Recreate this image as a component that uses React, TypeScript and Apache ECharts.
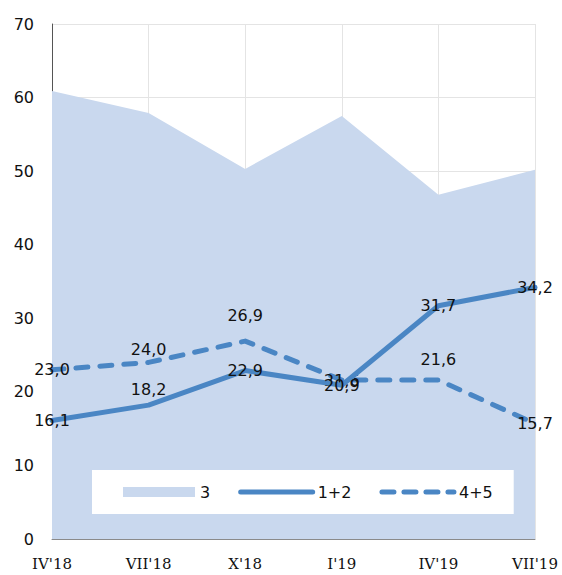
import React, { useEffect, useRef } from "react";
import * as echarts from "echarts";

const categories = ["IV'18", "VII'18", "X'18", "I'19", "IV'19", "VII'19"];
const areaValues = [60.9, 57.9, 50.3, 57.5, 46.8, 50.2];
const values12 = [16.1, 18.2, 22.9, 20.9, 31.7, 34.2];
const values45 = [23.0, 24.0, 26.9, 21.6, 21.6, 15.7];
// label placement per point: 0 = centered on point, >0 = distance above point
const labelAbove12 = [0, 7, 0, 0, 0, 0];
const labelAbove45 = [0, 4, 17, 0, 12, 0];
const yTicks = { min: 0, max: 70, interval: 10 };

const LINE_COLOR = "#4a86c4";
const AREA_COLOR = "#c9d8ee";
const SANS = "DejaVu Sans";

const fmt = (v: number) => v.toFixed(1).replace(".", ",");

function buildData(values: number[], above: number[]) {
  return values.map((v, i) =>
    above[i] > 0
      ? { value: v, label: { position: "top", distance: above[i] } }
      : { value: v, label: { position: "inside" } }
  );
}

export default function App() {
  const ref = useRef<HTMLDivElement>(null);
  useEffect(() => {
    if (!ref.current) return;
    const chart = echarts.init(ref.current, null, { renderer: "svg" });
    const labelCommon = {
      show: true,
      color: "#111",
      fontFamily: SANS,
      fontSize: 16,
      formatter: (p: any) => fmt(p.value),
    };
    chart.setOption({
      animation: false,
      backgroundColor: "#fff",
      grid: { left: 52, right: 27, top: 24, bottom: 36, containLabel: false },
      legend: {
        left: 92,
        top: 470,
        backgroundColor: "#fff",
        padding: [14, 21, 14, 31],
        itemGap: 28,
        itemWidth: 72,
        itemHeight: 10,
        itemStyle: { opacity: 0 },
        textStyle: { fontFamily: SANS, fontSize: 16, color: "#111" },
        data: [
          { name: "3", icon: "rect", itemStyle: { opacity: 1, color: AREA_COLOR } },
          { name: "1+2", lineStyle: { width: 5, color: LINE_COLOR, cap: "round" } },
          {
            name: "4+5",
            lineStyle: { width: 5, color: LINE_COLOR, type: [12, 10], cap: "round" },
          },
        ],
      },
      xAxis: {
        type: "category",
        data: categories,
        boundaryGap: false,
        axisLine: { show: true, lineStyle: { color: "#8a8a8a", width: 1 } },
        axisTick: { show: false },
        splitLine: { show: true, lineStyle: { color: "#e4e4e4", width: 1 } },
        axisLabel: {
          color: "#111",
          fontFamily: "DejaVu Serif",
          fontSize: 15,
          margin: 17,
        },
      },
      yAxis: {
        type: "value",
        min: yTicks.min,
        max: yTicks.max,
        interval: yTicks.interval,
        axisLine: { show: true, lineStyle: { color: "#555", width: 1 } },
        axisTick: { show: false },
        splitLine: { show: true, lineStyle: { color: "#e4e4e4", width: 1 } },
        axisLabel: { color: "#111", fontFamily: SANS, fontSize: 16, margin: 18 },
      },
      series: [
        {
          name: "3",
          type: "line",
          data: areaValues,
          symbol: "none",
          color: AREA_COLOR,
          lineStyle: { width: 0, color: AREA_COLOR },
          areaStyle: { color: AREA_COLOR, opacity: 1 },
          z: 1,
        },
        {
          name: "1+2",
          type: "line",
          data: buildData(values12, labelAbove12),
          symbol: "circle",
          symbolSize: 2,
          showSymbol: true,
          color: LINE_COLOR,
          itemStyle: { color: LINE_COLOR },
          lineStyle: { width: 5, color: LINE_COLOR, cap: "round", join: "round" },
          label: labelCommon,
          z: 3,
        },
        {
          name: "4+5",
          type: "line",
          data: buildData(values45, labelAbove45),
          symbol: "circle",
          symbolSize: 2,
          showSymbol: true,
          color: LINE_COLOR,
          itemStyle: { color: LINE_COLOR },
          lineStyle: { width: 5, color: LINE_COLOR, type: [12, 12], cap: "round", join: "round" },
          label: labelCommon,
          z: 2,
        },
      ],
    });
    return () => chart.dispose();
  }, []);
  return (
    <div
      ref={ref}
      style={{ position: "fixed", left: 0, top: 0, width: 562, height: 575 }}
    />
  );
}
